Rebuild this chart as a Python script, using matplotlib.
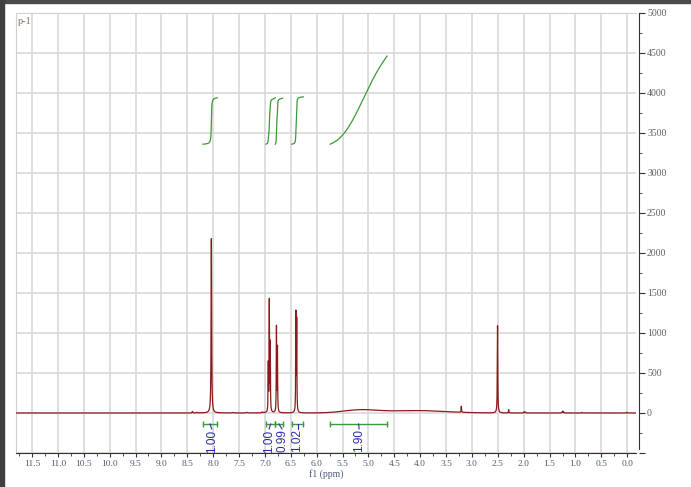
import numpy as np
import matplotlib.pyplot as plt
from matplotlib.patches import Rectangle
from matplotlib.ticker import MultipleLocator

# peak table: shift (ppm), height, half width (ppm)
peak_ppm = [8.40, 8.31, 8.035, 7.62, 7.35, 7.05, 6.935, 6.915, 6.897, 6.777, 6.758,
            6.402, 6.386, 3.205, 2.505, 2.29, 1.99, 1.97, 1.25, 1.23, 0.88, 0.01]
peak_height = [20, 8, 2180, 6, 8, 10, 590, 1370, 840, 1060, 800,
               1220, 1130, 75, 1090, 40, 15, 12, 22, 15, 8, 10]
peak_width = [0.006, 0.006, 0.006, 0.01, 0.01, 0.01, 0.004, 0.004, 0.004, 0.004, 0.004,
              0.004, 0.004, 0.004, 0.005, 0.004, 0.005, 0.005, 0.006, 0.006, 0.006, 0.005]

# broad exchangeable hump
hump_ppm = [5.15, 4.05]
hump_height = [38, 30]
hump_sigma = [0.33, 0.55]

# integrals
int_start = [8.20, 6.98, 6.80, 6.48, 5.74]
int_end = [7.92, 6.80, 6.66, 6.26, 4.64]
int_value = [1.00, 1.00, 0.99, 1.02, 1.90]
int_label_ppm = [8.03, 6.92, 6.67, 6.37, 5.18]

x = np.linspace(-0.2, 11.9, 40000)
y = np.zeros_like(x)
for p, h, w in zip(peak_ppm, peak_height, peak_width):
    y += h * w**2 / ((x - p)**2 + w**2)
for p, h, s in zip(hump_ppm, hump_height, hump_sigma):
    y += h * np.exp(-0.5 * ((x - p) / s)**2)

fig = plt.figure(figsize=(6.91, 4.87), dpi=100)
ax = fig.add_axes([16/691, 1-453/487, 620/691, 440/487])

ax.plot(x, y, color='#8b1a1a', lw=0.9, zorder=3)

green = '#3a9a3a'
base, scale = 3360, 580
for a, b, v, lp in zip(int_start, int_end, int_value, int_label_ppm):
    m = (x <= a) & (x >= b)
    xs = x[m][::-1]
    cs = np.cumsum(y[m][::-1])
    cs = cs / cs[-1]
    ax.plot(xs, base + scale * v * cs, color=green, lw=0.9, zorder=3)
    # bracket
    ax.plot([a, b], [-137, -137], color=green, lw=1.0)
    ax.plot([a, b], [-137, -137], ls='none', marker='|', ms=5, color=green, mew=1.0)
    mid = (a + b) / 2
    ax.plot([mid, lp], [-137, -200], color='#3030a0', lw=0.8)
    ax.text(lp, -205, '%.2f' % v, rotation=90, ha='center', va='top',
            color='#2a2aa8', fontsize=8.5, family='Liberation Sans')

ax.set_xlim(11.81, -0.17)
ax.set_ylim(-500, 5000)

ax.xaxis.set_major_locator(MultipleLocator(0.5))
ax.xaxis.set_minor_locator(MultipleLocator(0.25))
ax.yaxis.set_major_locator(MultipleLocator(500))
ax.yaxis.set_minor_locator(MultipleLocator(250))
ax.xaxis.set_major_formatter(plt.FuncFormatter(lambda v, p: '%.1f' % abs(v) if v >= -0.01 else ''))
ax.yaxis.set_major_formatter(plt.FuncFormatter(lambda v, p: '%d' % v if v >= 0 else ''))
ax.yaxis.tick_right()

ax.grid(True, which='major', color='#d9d9d9', lw=1.2, zorder=0)
ax.set_axisbelow(True)

for s in ['left', 'top']:
    ax.spines[s].set_color('#d0d0d0')
ax.spines['bottom'].set_color('#333333')
ax.spines['right'].set_color('#333333')
ax.spines['right'].set_position(('outward', 2))
ax.spines['right'].set_bounds(-450, 5000)

ax.tick_params(axis='x', which='major', direction='out', length=3, color='#333333',
               labelsize=6.8, labelcolor='#4c5c7c', pad=2)
ax.tick_params(axis='x', which='minor', direction='out', length=2, color='#333333')
ax.tick_params(axis='y', which='major', direction='out', length=4, color='#333333',
               labelsize=7, labelcolor='#606060', pad=2)
ax.tick_params(axis='y', which='minor', direction='out', length=2, color='#333333')
for lab in ax.get_xticklabels() + ax.get_yticklabels():
    lab.set_family('Liberation Serif')

ax.set_xlabel('f1 (ppm)', fontsize=7, color='#4c5c7c', family='Liberation Serif', labelpad=1)
ax.text(0.003, 0.99, 'p-1', transform=ax.transAxes, ha='left', va='top',
        fontsize=7.5, color='#8a7060', family='Liberation Serif')

# screenshot frame
fig.patches.append(Rectangle((0, 1-3/487), 1, 3/487, transform=fig.transFigure, color='#4a4a4a'))
fig.patches.append(Rectangle((0, 0), 4/691, 1, transform=fig.transFigure, color='#404040'))

plt.savefig('out.png', dpi=100)
